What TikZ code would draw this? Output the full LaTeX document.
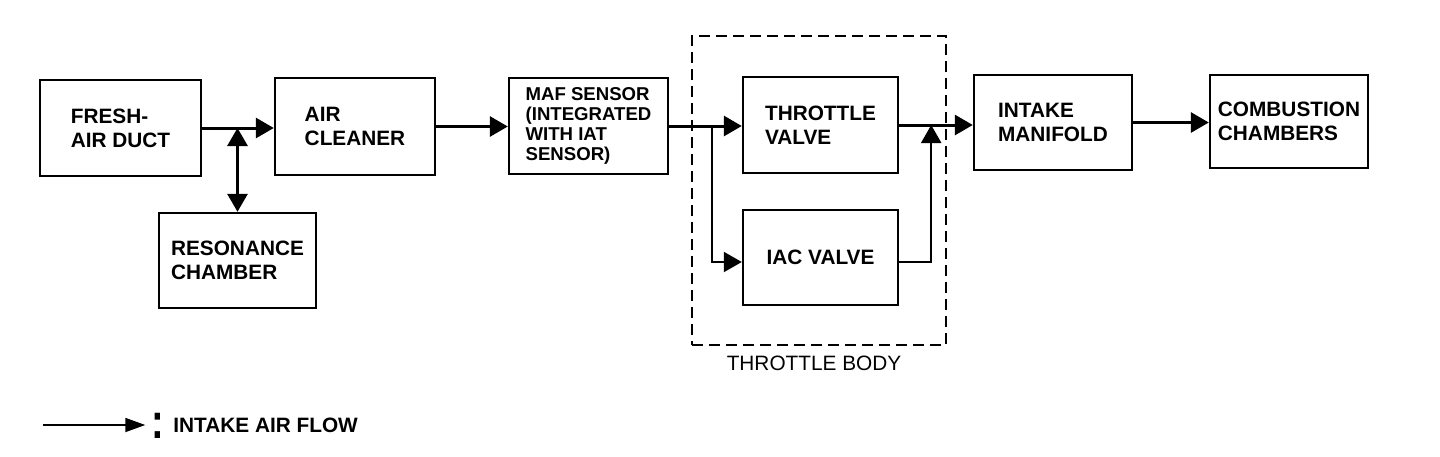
\documentclass[tikz,border=0pt]{standalone}
\usepackage{fontspec}
\setmainfont{Liberation Sans}
\usetikzlibrary{arrows.meta,positioning}

\begin{document}
\begin{tikzpicture}[x=0.5pt,y=-0.5pt,
  blk/.style={draw,line width=1.2pt,align=left,inner sep=2pt,font=\fontsize{10.4}{12}\selectfont\bfseries},
  flow/.style={line width=1.5pt,-{Triangle[length=9pt,width=10pt]}},
  thinflow/.style={line width=1pt,-{Triangle[length=9pt,width=10pt]}},
  legflow/.style={line width=0.9pt,-{Triangle[length=10pt,width=7pt]}}]
\useasboundingbox (0,0) rectangle (1440,456);
\node[blk,minimum width=80.5pt,minimum height=48pt] (duct) at (120.5,128) {FRESH-\\AIR DUCT};
\node[blk,minimum width=78.5pt,minimum height=47.5pt] (reson) at (237.5,260.5) {RESONANCE\\CHAMBER};
\node[blk,minimum width=80pt,minimum height=48.5pt] (cleaner) at (355,126.5) {AIR\\CLEANER};
\node[blk,minimum width=79.5pt,minimum height=48pt,font=\fontsize{9.3}{10}\selectfont\bfseries] (maf) at (588.5,126) {MAF SENSOR\\(INTEGRATED\\WITH IAT\\SENSOR)};
\node[blk,minimum width=77.5pt,minimum height=48pt] (tv) at (820.5,125) {THROTTLE\\VALVE};
\node[blk,minimum width=77.5pt,minimum height=47.5pt] (iac) at (820.5,257.5) {IAC VALVE};
\node[blk,minimum width=79pt,minimum height=47.5pt] (manifold) at (1053,122.5) {INTAKE\\MANIFOLD};
\node[blk,minimum width=79pt,minimum height=46.5pt] (comb) at (1289,121.5) {COMBUSTION\\CHAMBERS};
\node[draw,line width=1pt,dash pattern=on 5.5pt off 3pt,minimum width=127pt,minimum height=154.5pt] (body) at (819,190.5) {};
\node[font=\fontsize{10.4}{12}\selectfont] (bodylabel) at (814,363) {THROTTLE BODY};

\coordinate (j) at (reson.north |- duct.east);
\draw[flow] (duct.east) -- (duct.east -| cleaner.west);
\draw[flow,{Triangle[length=9pt,width=10pt]}-{Triangle[length=9pt,width=10pt]}] (reson.north) -- (j);
\draw[flow] (cleaner.east) -- (cleaner.east -| maf.west);
\draw[flow] (maf.east) -- (maf.east -| tv.west);
\coordinate (br) at ([xshift=21.5pt]maf.east);
\draw[thinflow] (br) |- ([yshift=-2.25pt]iac.west);
\draw[flow] (tv.east) -- (tv.east -| manifold.west);
\coordinate (mg) at ([xshift=16pt]tv.east);
\draw[thinflow] ([yshift=-2.25pt]iac.east) -| (mg);
\draw[flow] (manifold.east) -- (manifold.east -| comb.west);

\node[anchor=west,inner sep=0pt,font=\fontsize{10.4}{12}\selectfont\bfseries] (legend) at (173,425) {INTAKE AIR FLOW};
\node[inner sep=0pt,font=\bfseries] (colon) at (158,426) {\scalebox{1.9}[2.5]{:}};
\coordinate (lg) at (43,425);
\draw[legflow] (lg) -- ([xshift=-3pt]colon.west |- lg);
\end{tikzpicture}
\end{document}
